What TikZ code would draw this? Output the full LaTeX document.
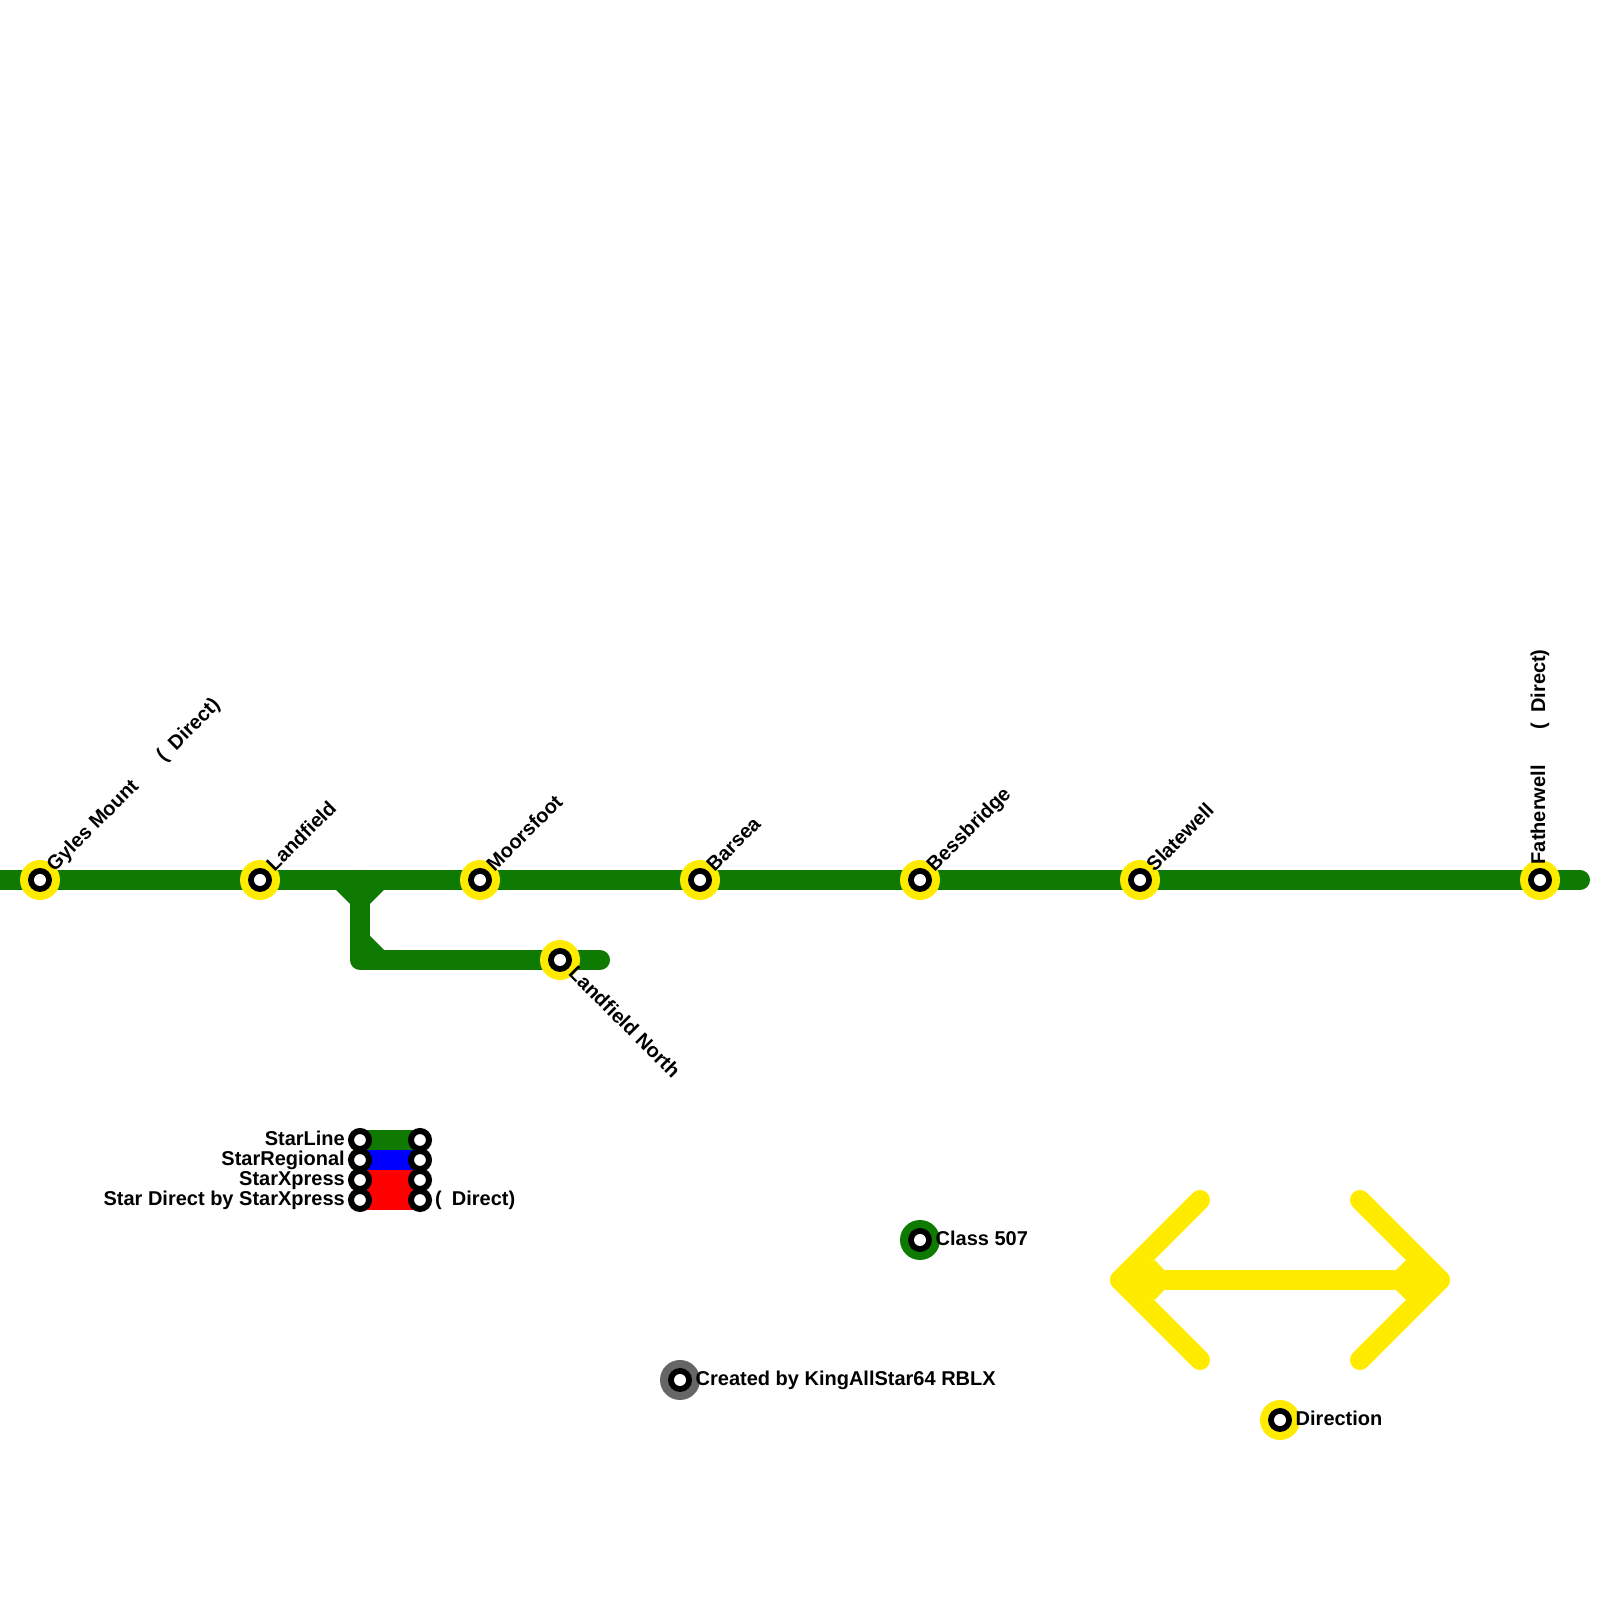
\documentclass[tikz,border=0pt]{standalone}
\usepackage{fontspec}
\setmainfont{Liberation Sans}
\usetikzlibrary{positioning,backgrounds}
\definecolor{lineGreen}{HTML}{0E7A02}
\definecolor{lineYellow}{HTML}{FFEB00}
\definecolor{lineGrey}{HTML}{666666}
\begin{document}
\begin{tikzpicture}[
    stationDot/.style={circle, inner sep=0pt, minimum size=0.4cm, fill=#1, path picture={
        \fill[black] (path picture bounding box.center) circle (0.12);
        \fill[white] (path picture bounding box.center) circle (0.06);}},
    keyDot/.style={circle, inner sep=0pt, minimum size=0.18cm, draw=black, line width=0.06cm, fill=white},
    stationText/.style={inner sep=0pt, font=\fontsize{5.69}{6.5}\selectfont\bfseries, text=black},
    trackStyle/.style={line width=0.2cm, line cap=round, line join=round, draw=#1},
    keyStyle/.style={line width=0.2cm, line cap=butt, draw=#1}
]
    \useasboundingbox (0, 0) rectangle (16, 16);

    \coordinate (lineWest) at (-0.2, 7.2);
    \coordinate (lineEast) at (15.8, 7.2);
    \coordinate (junction) at (3.6, 7.2);
    \coordinate (branchCorner) at (3.6, 6.4);
    \coordinate (branchEnd) at (6.0, 6.4);

    \node[stationDot=lineYellow] (gyles) at (0.4, 7.2) {};
    \node[stationDot=lineYellow] (landfield) at (2.6, 7.2) {};
    \node[stationDot=lineYellow] (moorsfoot) at (4.8, 7.2) {};
    \node[stationDot=lineYellow] (barsea) at (7.0, 7.2) {};
    \node[stationDot=lineYellow] (bessbridge) at (9.2, 7.2) {};
    \node[stationDot=lineYellow] (slatewell) at (11.4, 7.2) {};
    \node[stationDot=lineYellow] (fatherwell) at (15.4, 7.2) {};
    \node[stationDot=lineYellow] (landfieldNorth) at (5.6, 6.4) {};

    \node[stationText, rotate=45, anchor=base west] (gylesText) at ([shift={(26.6:0.158)}] gyles.center) {Gyles Mount\hspace{0.35cm}(\hspace{0.1cm}Direct)};
    \node[stationText, rotate=45, anchor=base west] (landfieldText) at ([shift={(26.6:0.158)}] landfield.center) {Landfield};
    \node[stationText, rotate=45, anchor=base west] (moorsfootText) at ([shift={(26.6:0.158)}] moorsfoot.center) {Moorsfoot};
    \node[stationText, rotate=45, anchor=base west] (barseaText) at ([shift={(26.6:0.158)}] barsea.center) {Barsea};
    \node[stationText, rotate=45, anchor=base west] (bessbridgeText) at ([shift={(26.6:0.158)}] bessbridge.center) {Bessbridge};
    \node[stationText, rotate=45, anchor=base west] (slatewellText) at ([shift={(26.6:0.158)}] slatewell.center) {Slatewell};
    \node[stationText, rotate=90, anchor=base west] (fatherwellText) at ([shift={(71.6:0.158)}] fatherwell.center) {Fatherwell\hspace{0.36cm}(\hspace{0.1cm}Direct)};
    \node[stationText, rotate=-45, anchor=base west] (landfieldNorthText) at ([shift={(-63.4:0.158)}] landfieldNorth.center) {Landfield North};

    \begin{scope}[on background layer]
        \draw[trackStyle=lineGreen] (lineWest) -- (gyles.center) -- (landfield.center) -- (moorsfoot.center) -- (barsea.center) -- (bessbridge.center) -- (slatewell.center) -- (fatherwell.center) -- (lineEast);
        \draw[trackStyle=lineGreen] (junction) -- (branchCorner) -- (landfieldNorth.center) -- (branchEnd);
        \fill[lineGreen] (3.36, 7.10) -- (3.84, 7.10) -- (3.70, 6.96) -- (3.50, 6.96) -- cycle;
        \fill[lineGreen] (3.70, 6.64) -- (3.84, 6.50) -- (3.70, 6.50) -- cycle;
    \end{scope}

    % legend
    \node[keyDot] (starLineA) at (3.6, 4.6) {};
    \node[keyDot] (starRegionalA) at (3.6, 4.4) {};
    \node[keyDot] (starXpressA) at (3.6, 4.2) {};
    \node[keyDot] (starDirectA) at (3.6, 4.0) {};
    \node[keyDot] (starLineB) at (4.2, 4.6) {};
    \node[keyDot] (starRegionalB) at (4.2, 4.4) {};
    \node[keyDot] (starXpressB) at (4.2, 4.2) {};
    \node[keyDot] (starDirectB) at (4.2, 4.0) {};

    \begin{scope}[on background layer]
        \draw[keyStyle=lineGreen] (starLineA.center) -- (starLineB.center);
        \draw[keyStyle=blue] (starRegionalA.center) -- (starRegionalB.center);
        \draw[keyStyle=red] (starXpressA.center) -- (starXpressB.center);
        \draw[trackStyle=red] (starDirectA.center) -- (starDirectB.center);
    \end{scope}

    \node[stationText, anchor=base east] (starLineText) at ([xshift=-0.145cm, yshift=-0.06cm] starLineA.center) {StarLine};
    \node[stationText, anchor=base east] (starRegionalText) at ([xshift=-0.145cm, yshift=-0.06cm] starRegionalA.center) {StarRegional};
    \node[stationText, anchor=base east] (starXpressText) at ([xshift=-0.145cm, yshift=-0.06cm] starXpressA.center) {StarXpress};
    \node[stationText, anchor=base east] (starDirectText) at ([xshift=-0.145cm, yshift=-0.06cm] starDirectA.center) {Star Direct by StarXpress};
    \node[stationText, anchor=base west] (directText) at ([xshift=0.145cm, yshift=-0.06cm] starDirectB.center) {(\hspace{0.1cm}Direct)};

    \node[stationDot=lineGreen] (classDot) at (9.2, 3.6) {};
    \node[stationText, anchor=base west] (classText) at ([xshift=0.15cm, yshift=-0.06cm] classDot.center) {Class 507};
    \node[stationDot=lineGrey] (creditDot) at (6.8, 2.2) {};
    \node[stationText, anchor=base west] (creditText) at ([xshift=0.15cm, yshift=-0.06cm] creditDot.center) {Created by KingAllStar64 RBLX};
    \node[stationDot=lineYellow] (directionDot) at (12.8, 1.8) {};
    \node[stationText, anchor=base west] (directionText) at ([xshift=0.15cm, yshift=-0.06cm] directionDot.center) {Direction};

    % direction arrow
    \coordinate (arrowWest) at (11.2, 3.2);
    \coordinate (arrowEast) at (14.4, 3.2);
    \coordinate (barbWestUp) at (12.0, 4.0);
    \coordinate (barbWestDown) at (12.0, 2.4);
    \coordinate (barbEastUp) at (13.6, 4.0);
    \coordinate (barbEastDown) at (13.6, 2.4);
    \draw[trackStyle=lineYellow] (arrowWest) -- (arrowEast);
    \draw[trackStyle=lineYellow] (barbWestUp) -- (arrowWest) -- (barbWestDown);
    \draw[trackStyle=lineYellow] (barbEastUp) -- (arrowEast) -- (barbEastDown);
    \fill[lineYellow] (11.55, 3.40) -- (11.64, 3.30) -- (11.40, 3.30) -- cycle;
    \fill[lineYellow] (11.55, 3.00) -- (11.64, 3.10) -- (11.40, 3.10) -- cycle;
    \fill[lineYellow] (14.06, 3.40) -- (13.96, 3.30) -- (14.20, 3.30) -- cycle;
    \fill[lineYellow] (14.06, 3.00) -- (13.96, 3.10) -- (14.20, 3.10) -- cycle;
\end{tikzpicture}
\end{document}
